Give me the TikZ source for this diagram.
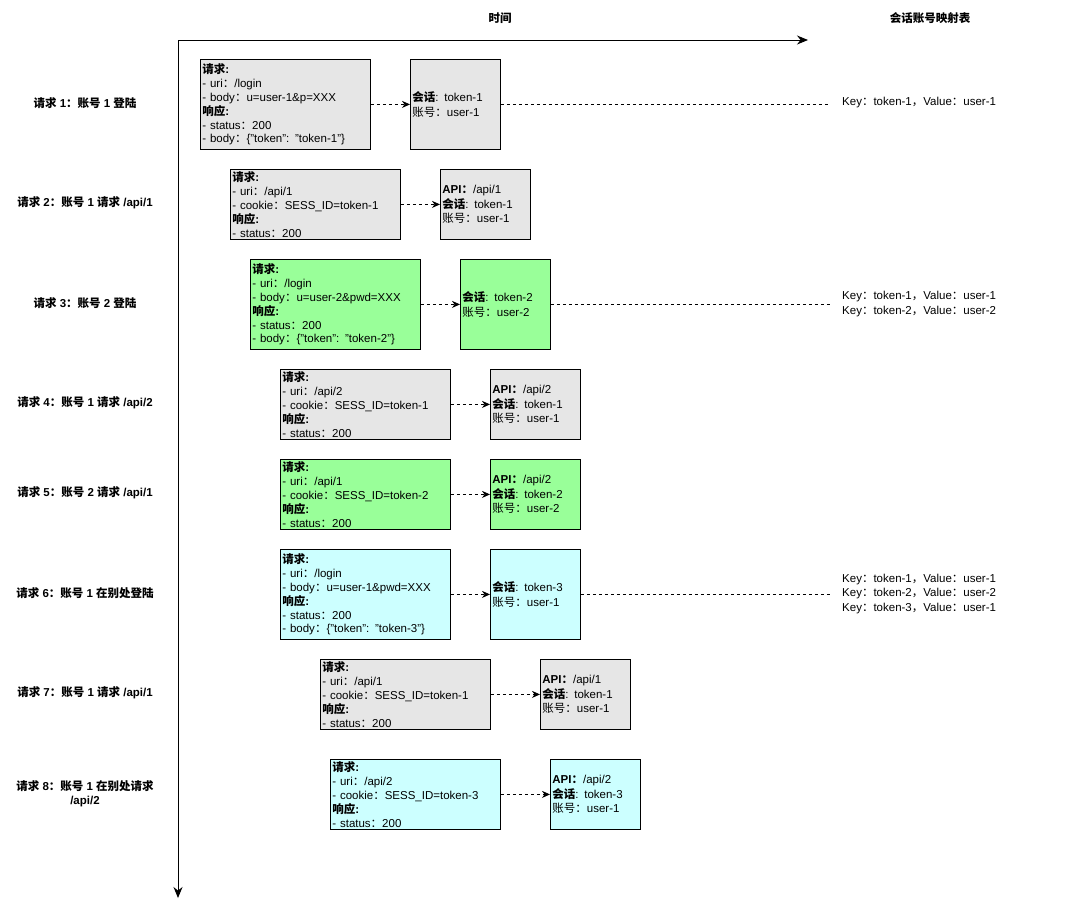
\documentclass[tikz,border=0pt]{standalone}
\usepackage{fontspec}
\setmainfont{Liberation Sans}
\newfontfamily\cjk{Noto Sans CJK SC}
\newcommand{\zh}[1]{{\cjk #1}}
\usetikzlibrary{arrows.meta}

\definecolor{boxgray}{HTML}{E6E6E6}
\definecolor{boxgreen}{HTML}{99FF99}
\definecolor{boxcyan}{HTML}{CCFFFF}

\begin{document}
\begin{tikzpicture}[x=1pt, y=-1pt,
  every node/.style={font=\fontsize{11.5}{14.4}\selectfont},
  reqbox/.style={draw, line width=0.8pt, fill=boxgray, minimum width=170pt,
    text width=166pt, inner xsep=2pt, inner ysep=0pt, align=left, anchor=north west,
    font=\fontsize{11.5}{13.9}\selectfont},
  resbox/.style={draw, line width=0.8pt, fill=boxgray, minimum width=90pt,
    text width=86pt, inner xsep=2pt, inner ysep=0pt, align=left, anchor=north west,
    font=\fontsize{11.5}{14.4}\selectfont},
  rowlabel/.style={font=\fontsize{11.5}{14.4}\selectfont\bfseries, align=center},
  maptext/.style={anchor=west, inner sep=0pt, align=left},
  flow/.style={line width=0.8pt, dash pattern=on 3pt off 3pt, -{Stealth[length=8pt,width=7pt]}},
  maplink/.style={line width=0.8pt, dash pattern=on 3pt off 3pt, shorten >=12pt},
  axis/.style={line width=1pt, -{Stealth[length=11pt,width=9pt]}}
]
  % Background
  \useasboundingbox[fill=white] (0,0) rectangle (1076,906);

  % Titles
  \node[rowlabel] (ttime) at (500,18) {\zh{时间}};
  \node[rowlabel] (tmap) at (930,18) {\zh{会话账号映射表}};

  % Axes
  \coordinate (o) at (178,40);
  \coordinate (xend) at (808,40);
  \coordinate (yend) at (178,898);
  \draw[axis] (o) -- (xend);
  \draw[axis] (o) -- (yend);

  % Row labels
  \node[rowlabel] (lab1) at (85,103) {\zh{请求} 1\zh{：账号} 1 \zh{登陆}};
  \node[rowlabel] (lab2) at (85,203) {\zh{请求} 2\zh{：账号} 1 \zh{请求} /api/1};
  \node[rowlabel] (lab3) at (85,303) {\zh{请求} 3\zh{：账号} 2 \zh{登陆}};
  \node[rowlabel] (lab4) at (85,403) {\zh{请求} 4\zh{：账号} 1 \zh{请求} /api/2};
  \node[rowlabel] (lab5) at (85,493) {\zh{请求} 5\zh{：账号} 2 \zh{请求} /api/1};
  \node[rowlabel] (lab6) at (85,593) {\zh{请求} 6\zh{：账号} 1 \zh{在别处登陆}};
  \node[rowlabel] (lab7) at (85,693) {\zh{请求} 7\zh{：账号} 1 \zh{请求} /api/1};
  \node[rowlabel] (lab8) at (85,794) {\zh{请求} 8\zh{：账号} 1 \zh{在别处请求}\\/api/2};

  % Request 1
  \node[reqbox, minimum height=90pt] (req1) at (200,59) {\textbf{\zh{请求}:}\\
    - uri\zh{：}/login\\
    - body\zh{：}u=user-1\&p=XXX\\
    \textbf{\zh{响应}:}\\
    - status\zh{：}200\\
    - body\zh{：}\{"token": "token-1"\}};
  \node[resbox, minimum height=90pt] (res1) at (410,59) {\textbf{\zh{会话}}: token-1\\
    \zh{账号：}user-1};
  \draw[flow] (req1.east) -- (req1.east -| res1.west);
  \node[maptext] (map1) at (842,103) {Key\zh{：}token-1\zh{，}Value\zh{：}user-1};
  \draw[maplink] (res1.east) -- (res1.east -| map1.west);

  % Request 2
  \node[reqbox, minimum height=70pt] (req2) at (230,169) {\textbf{\zh{请求}:}\\
    - uri\zh{：}/api/1\\
    - cookie\zh{：}SESS\_ID=token-1\\
    \textbf{\zh{响应}:}\\
    - status\zh{：}200};
  \node[resbox, minimum height=70pt] (res2) at (440,169) {\textbf{API\zh{：}}/api/1\\
    \textbf{\zh{会话}}: token-1\\
    \zh{账号：}user-1};
  \draw[flow] (req2.east) -- (req2.east -| res2.west);

  % Request 3
  \node[reqbox, fill=boxgreen, minimum height=90pt] (req3) at (250,259) {\textbf{\zh{请求}:}\\
    - uri\zh{：}/login\\
    - body\zh{：}u=user-2\&pwd=XXX\\
    \textbf{\zh{响应}:}\\
    - status\zh{：}200\\
    - body\zh{：}\{"token": "token-2"\}};
  \node[resbox, fill=boxgreen, minimum height=90pt] (res3) at (460,259) {\textbf{\zh{会话}}: token-2\\
    \zh{账号：}user-2};
  \draw[flow] (req3.east) -- (req3.east -| res3.west);
  \node[maptext] (map3) at (842,304) {Key\zh{：}token-1\zh{，}Value\zh{：}user-1\\
    Key\zh{：}token-2\zh{，}Value\zh{：}user-2};
  \draw[maplink] (res3.east) -- (res3.east -| map3.west);

  % Request 4
  \node[reqbox, minimum height=70pt] (req4) at (280,369) {\textbf{\zh{请求}:}\\
    - uri\zh{：}/api/2\\
    - cookie\zh{：}SESS\_ID=token-1\\
    \textbf{\zh{响应}:}\\
    - status\zh{：}200};
  \node[resbox, minimum height=70pt] (res4) at (490,369) {\textbf{API\zh{：}}/api/2\\
    \textbf{\zh{会话}}: token-1\\
    \zh{账号：}user-1};
  \draw[flow] (req4.east) -- (req4.east -| res4.west);

  % Request 5
  \node[reqbox, fill=boxgreen, minimum height=70pt] (req5) at (280,459) {\textbf{\zh{请求}:}\\
    - uri\zh{：}/api/1\\
    - cookie\zh{：}SESS\_ID=token-2\\
    \textbf{\zh{响应}:}\\
    - status\zh{：}200};
  \node[resbox, fill=boxgreen, minimum height=70pt] (res5) at (490,459) {\textbf{API\zh{：}}/api/2\\
    \textbf{\zh{会话}}: token-2\\
    \zh{账号：}user-2};
  \draw[flow] (req5.east) -- (req5.east -| res5.west);

  % Request 6
  \node[reqbox, fill=boxcyan, minimum height=90pt] (req6) at (280,549) {\textbf{\zh{请求}:}\\
    - uri\zh{：}/login\\
    - body\zh{：}u=user-1\&pwd=XXX\\
    \textbf{\zh{响应}:}\\
    - status\zh{：}200\\
    - body\zh{：}\{"token": "token-3"\}};
  \node[resbox, fill=boxcyan, minimum height=90pt] (res6) at (490,549) {\textbf{\zh{会话}}: token-3\\
    \zh{账号：}user-1};
  \draw[flow] (req6.east) -- (req6.east -| res6.west);
  \node[maptext] (map6) at (842,594) {Key\zh{：}token-1\zh{，}Value\zh{：}user-1\\
    Key\zh{：}token-2\zh{，}Value\zh{：}user-2\\
    Key\zh{：}token-3\zh{，}Value\zh{：}user-1};
  \draw[maplink] (res6.east) -- (res6.east -| map6.west);

  % Request 7
  \node[reqbox, minimum height=70pt] (req7) at (320,659) {\textbf{\zh{请求}:}\\
    - uri\zh{：}/api/1\\
    - cookie\zh{：}SESS\_ID=token-1\\
    \textbf{\zh{响应}:}\\
    - status\zh{：}200};
  \node[resbox, minimum height=70pt] (res7) at (540,659) {\textbf{API\zh{：}}/api/1\\
    \textbf{\zh{会话}}: token-1\\
    \zh{账号：}user-1};
  \draw[flow] (req7.east) -- (req7.east -| res7.west);

  % Request 8
  \node[reqbox, fill=boxcyan, minimum height=70pt] (req8) at (330,759) {\textbf{\zh{请求}:}\\
    - uri\zh{：}/api/2\\
    - cookie\zh{：}SESS\_ID=token-3\\
    \textbf{\zh{响应}:}\\
    - status\zh{：}200};
  \node[resbox, fill=boxcyan, minimum height=70pt] (res8) at (550,759) {\textbf{API\zh{：}}/api/2\\
    \textbf{\zh{会话}}: token-3\\
    \zh{账号：}user-1};
  \draw[flow] (req8.east) -- (req8.east -| res8.west);
\end{tikzpicture}
\end{document}
